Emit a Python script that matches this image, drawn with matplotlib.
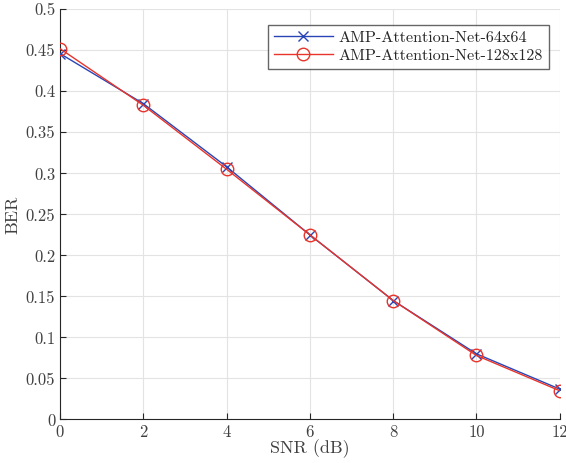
import matplotlib
matplotlib.use("Agg")
import matplotlib.pyplot as plt

snr = [0, 2, 4, 6, 8, 10, 12]
ber_64 = [0.446, 0.385, 0.308, 0.225, 0.145, 0.080, 0.037]
ber_128 = [0.452, 0.383, 0.305, 0.225, 0.145, 0.078, 0.035]
labels = ["AMP-Attention-Net-64x64", "AMP-Attention-Net-128x128"]
xticks = [0, 2, 4, 6, 8, 10, 12]
yticks = [0, 0.05, 0.1, 0.15, 0.2, 0.25, 0.3, 0.35, 0.4, 0.45, 0.5]

plt.rcParams['font.family'] = ['cmr10', 'DejaVu Serif']
plt.rcParams['axes.formatter.use_mathtext'] = True

fig = plt.figure(figsize=(5.66, 4.63), dpi=100)
ax = fig.add_axes([0.106, 0.094, 0.883, 0.886])

ax.plot(snr, ber_64, color='#2a45b5', marker='x', markersize=7, linewidth=1.0,
        markeredgewidth=1.0, label=labels[0], zorder=3)
ax.plot(snr, ber_128, color='#e8342a', marker='o', markersize=9, linewidth=1.0,
        markerfacecolor='none', markeredgewidth=1.0, label=labels[1], zorder=3)

ax.set_xlim(0, 12)
ax.set_ylim(0, 0.5)
ax.set_xticks(xticks)
ax.set_yticks(yticks)
ax.set_xticklabels([str(v) for v in xticks])
ax.set_yticklabels([('%g' % v) for v in yticks])
ax.grid(True, color='#e3e3e3', linewidth=0.8)
ax.set_axisbelow(True)
for s in ['top', 'right']:
    ax.spines[s].set_visible(False)
for s in ['left', 'bottom']:
    ax.spines[s].set_color('#262626')
    ax.spines[s].set_linewidth(0.8)
ax.tick_params(direction='in', length=4, width=0.8, color='#262626',
               labelcolor='#404040', labelsize=12)
ax.set_xlabel('SNR (dB)', fontsize=13, color='#404040', labelpad=0)
ax.set_ylabel('BER', fontsize=13, color='#404040', labelpad=4)

leg = ax.legend(loc='upper right', bbox_to_anchor=(0.978, 0.962), fontsize=11.6,
                frameon=True, fancybox=False, edgecolor='#404040',
                borderpad=0.35, handlelength=3.7, labelspacing=0.25,
                handletextpad=0.35, borderaxespad=0)
leg.get_frame().set_linewidth(1.0)
for t in leg.get_texts():
    t.set_color('#262626')

fig.savefig('out.png', dpi=100)
